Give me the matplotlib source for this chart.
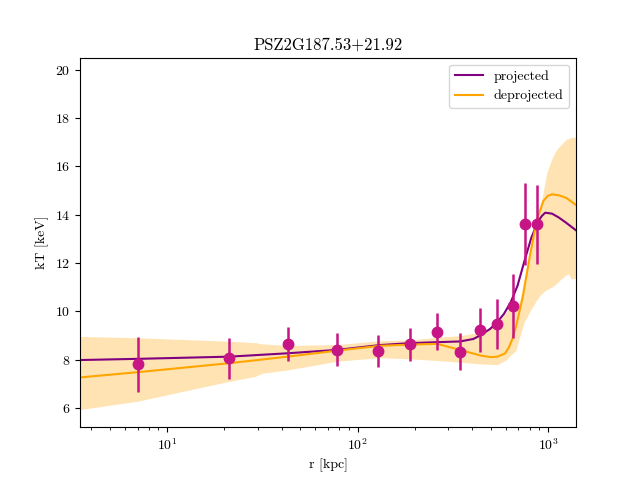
import matplotlib
matplotlib.use('Agg')
import matplotlib.pyplot as plt
import numpy as np

plt.rcParams['font.family'] = 'serif'
plt.rcParams['font.serif'] = ['cmr10']
plt.rcParams['mathtext.fontset'] = 'cm'
plt.rcParams['axes.formatter.use_mathtext'] = True

# measured temperature profile
r_data = [7.05, 21.2, 42.9, 78.0, 128.5, 189, 262, 345, 441, 542, 653, 760, 879]
kT_data = [7.80, 8.05, 8.66, 8.40, 8.34, 8.64, 9.16, 8.32, 9.24, 9.48, 10.22, 13.62, 13.60]
kT_err = [1.13, 0.86, 0.70, 0.68, 0.66, 0.68, 0.75, 0.76, 0.91, 1.03, 1.34, 1.69, 1.63]

# projected model
r_proj = [3.49, 7.05, 21.2, 42.9, 78, 131, 189, 262, 345, 405, 441, 497, 540, 587,
          637, 692, 753, 818, 890, 930, 967, 1050, 1140, 1242, 1403]
kT_proj = [7.98, 8.03, 8.12, 8.26, 8.40, 8.60, 8.68, 8.72, 8.75, 8.85, 9.0, 9.27, 9.54, 9.89,
           10.37, 11.06, 12.09, 13.05, 13.74, 13.95, 14.08, 14.04, 13.88, 13.67, 13.35]

# deprojected model
r_deproj = [3.49, 7.05, 21.2, 42.9, 78, 131, 189, 262, 345, 441, 500, 542, 594, 624,
            650, 678, 737, 801, 871, 946, 1000, 1050, 1140, 1242, 1403]
kT_deproj = [7.26, 7.48, 7.85, 8.12, 8.37, 8.57, 8.62, 8.65, 8.40, 8.17, 8.10, 8.12, 8.25, 8.51,
             8.85, 9.34, 10.58, 12.23, 13.74, 14.57, 14.78, 14.84, 14.8, 14.7, 14.4]
band_r = [3.49, 7.05, 21.2, 29.0, 31.5, 42.9, 78, 131, 189, 262, 345, 441, 542, 607,
          630, 678, 708, 750, 818, 870, 907, 948, 987, 1047, 1091, 1142,
          1240, 1285, 1320, 1403]
band_lo = [5.93, 6.28, 7.10, 7.30, 7.43, 7.57, 7.93, 8.08, 8.03, 7.96, 7.89, 7.82, 7.79, 8.0,
           8.15, 8.37, 8.9, 9.55, 10.1, 10.45, 10.65, 10.8, 10.9, 11.0, 11.1, 11.25,
           11.5, 11.55, 11.33, 11.38]
band_hi = [8.96, 8.90, 8.76, 8.70, 8.65, 8.58, 8.62, 8.78, 8.81, 8.92, 8.99, 9.13, 9.47, 10.0,
           10.1, 10.25, 10.36, 11.35, 12.63, 13.62, 14.2, 15.04, 15.75, 16.31,
           16.6, 16.81, 17.1, 17.15, 17.2, 17.2]

fig, ax = plt.subplots(figsize=(6.4, 4.8), dpi=100)

ax.fill_between(band_r, band_lo, band_hi, color='orange', alpha=0.3, lw=0)
ax.plot(r_proj, kT_proj, color='purple', lw=1.5, label='projected')
ax.plot(r_deproj, kT_deproj, color='orange', lw=1.5, label='deprojected')
ax.errorbar(r_data, kT_data, yerr=kT_err, fmt='o', color='mediumvioletred',
            ms=7.5, elinewidth=1.8, capsize=0)

ax.set_xscale('log')
ax.set_xlim(3.49, 1403)
ax.set_ylim(5.2, 20.5)
ax.set_xlabel('r [kpc]')
ax.set_ylabel('kT [keV]')
ax.set_title('PSZ2G187.53+21.92')
ax.legend(loc='upper right')

plt.savefig('out.png', dpi=100)
